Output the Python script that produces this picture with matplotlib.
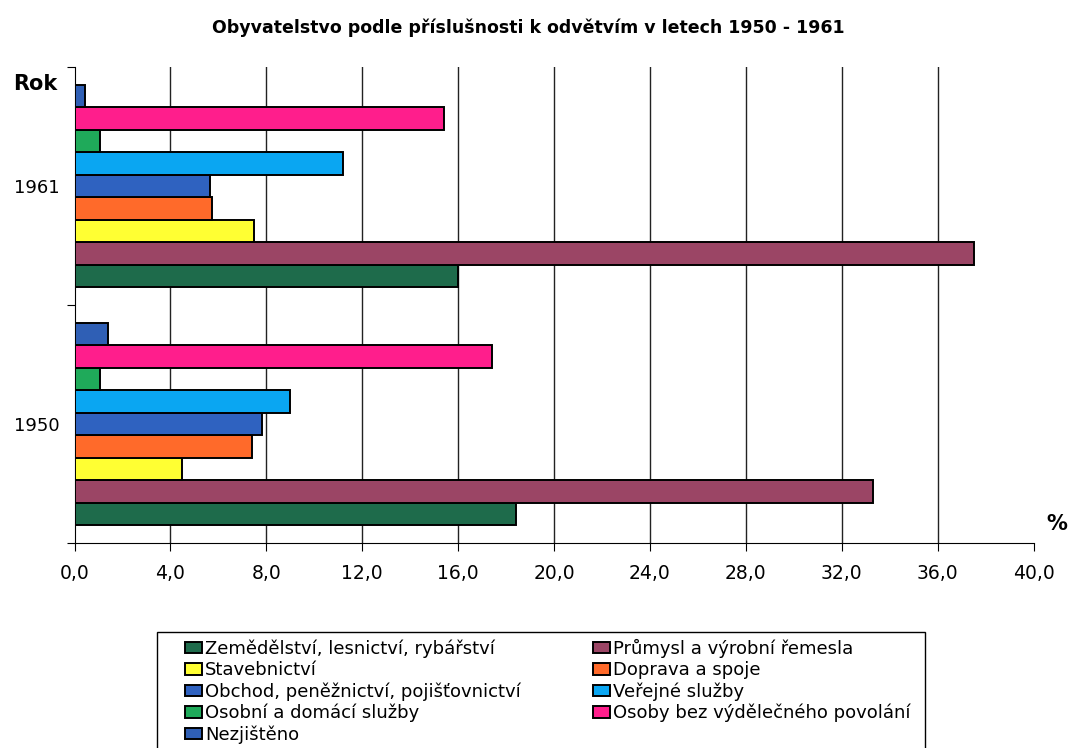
import numpy as np
import matplotlib.pyplot as plt
from matplotlib.patches import Rectangle

plt.rcParams['font.family'] = ['DejaVu Sans']

# Data (% of population)
years = ['1950', '1961']
sectors = ['Zemědělství, lesnictví, rybářství', 'Průmysl a výrobní řemesla',
           'Stavebnictví', 'Doprava a spoje',
           'Obchod, peněžnictví, pojišťovnictví', 'Veřejné služby',
           'Osobní a domácí služby', 'Osoby bez výdělečného povolání',
           'Nezjištěno']
values_1950 = [18.4, 33.3, 4.5, 7.4, 7.8, 9.0, 1.05, 17.4, 1.4]
values_1961 = [16.0, 37.5, 7.5, 5.75, 5.65, 11.2, 1.05, 15.4, 0.45]
colors = ['#1e6b4b', '#9b4565', '#ffff33', '#ff6a2a', '#2f62c0',
          '#0aa6f2', '#1faa5a', '#ff1e8c', '#2f5fb5']
xticks = np.arange(0, 41, 4)

fig = plt.figure(figsize=(10.69, 7.48), dpi=100)
ax = fig.add_axes([74.5 / 1069, 1 - 543 / 748, 959 / 1069, 476 / 748])

group = 0.852
h = group / len(sectors)
centers = np.array([0.5, 1.5])
handles = []
for i, (name, col) in enumerate(zip(sectors, colors)):
    vals = [values_1950[i], values_1961[i]]
    y = centers - group / 2 + (i + 0.5) * h
    b = ax.barh(y, vals, height=h, color=col, edgecolor='black',
                linewidth=1.4, label=name, zorder=3)
    handles.append(b)

ax.set_xlim(0, 40)
ax.set_ylim(0, 2)
ax.set_xticks(xticks)
ax.set_xticklabels([f'{v:.1f}'.replace('.', ',') for v in xticks], fontsize=13.5)
for v in xticks[1:-1]:
    ax.axvline(v, color='#222222', linewidth=1.0, zorder=1)

ax.set_yticks([0, 1, 2])
ax.set_yticklabels([])
ax.set_yticks(centers, minor=True)
ax.set_yticklabels(years, minor=True, fontsize=13)
ax.tick_params(axis='y', which='minor', length=0, pad=11)
ax.tick_params(axis='y', which='major', length=6, direction='out')
ax.tick_params(axis='x', length=6, direction='out', pad=9)
ax.spines['top'].set_visible(False)
ax.spines['right'].set_visible(False)

fig.text(528 / 1069, 1 - 28 / 748, 'Obyvatelstvo podle příslušnosti k odvětvím v letech 1950 - 1961',
         ha='center', va='center', fontsize=12.5, fontweight='bold')
fig.text(13 / 1069, 1 - 84 / 748, 'Rok', ha='left', va='center',
         fontsize=15, fontweight='bold')
fig.text(1046 / 1069, 1 - 524 / 748, '%', ha='left', va='center',
         fontsize=15, fontweight='bold')

# legend frame (runs off the bottom of the image)
fig.patches.append(Rectangle((157 / 1069, -0.02), (925 - 157) / 1069,
                             (1 - 632 / 748) + 0.02, transform=fig.transFigure,
                             fill=False, edgecolor='black', linewidth=1.0))

# row-wise order in two columns
order = [0, 2, 4, 6, 8, 1, 3, 5, 7]
leg = fig.legend([handles[k] for k in order], [sectors[k] for k in order],
                 loc='upper left', bbox_to_anchor=(185 / 1069, 1 - 639 / 748),
                 ncol=2, frameon=False, fontsize=13, handlelength=0.95,
                 handleheight=0.6, handletextpad=0.15, labelspacing=0.17,
                 columnspacing=4.0, borderaxespad=0, borderpad=0)

fig.savefig('out.png', dpi=100)
